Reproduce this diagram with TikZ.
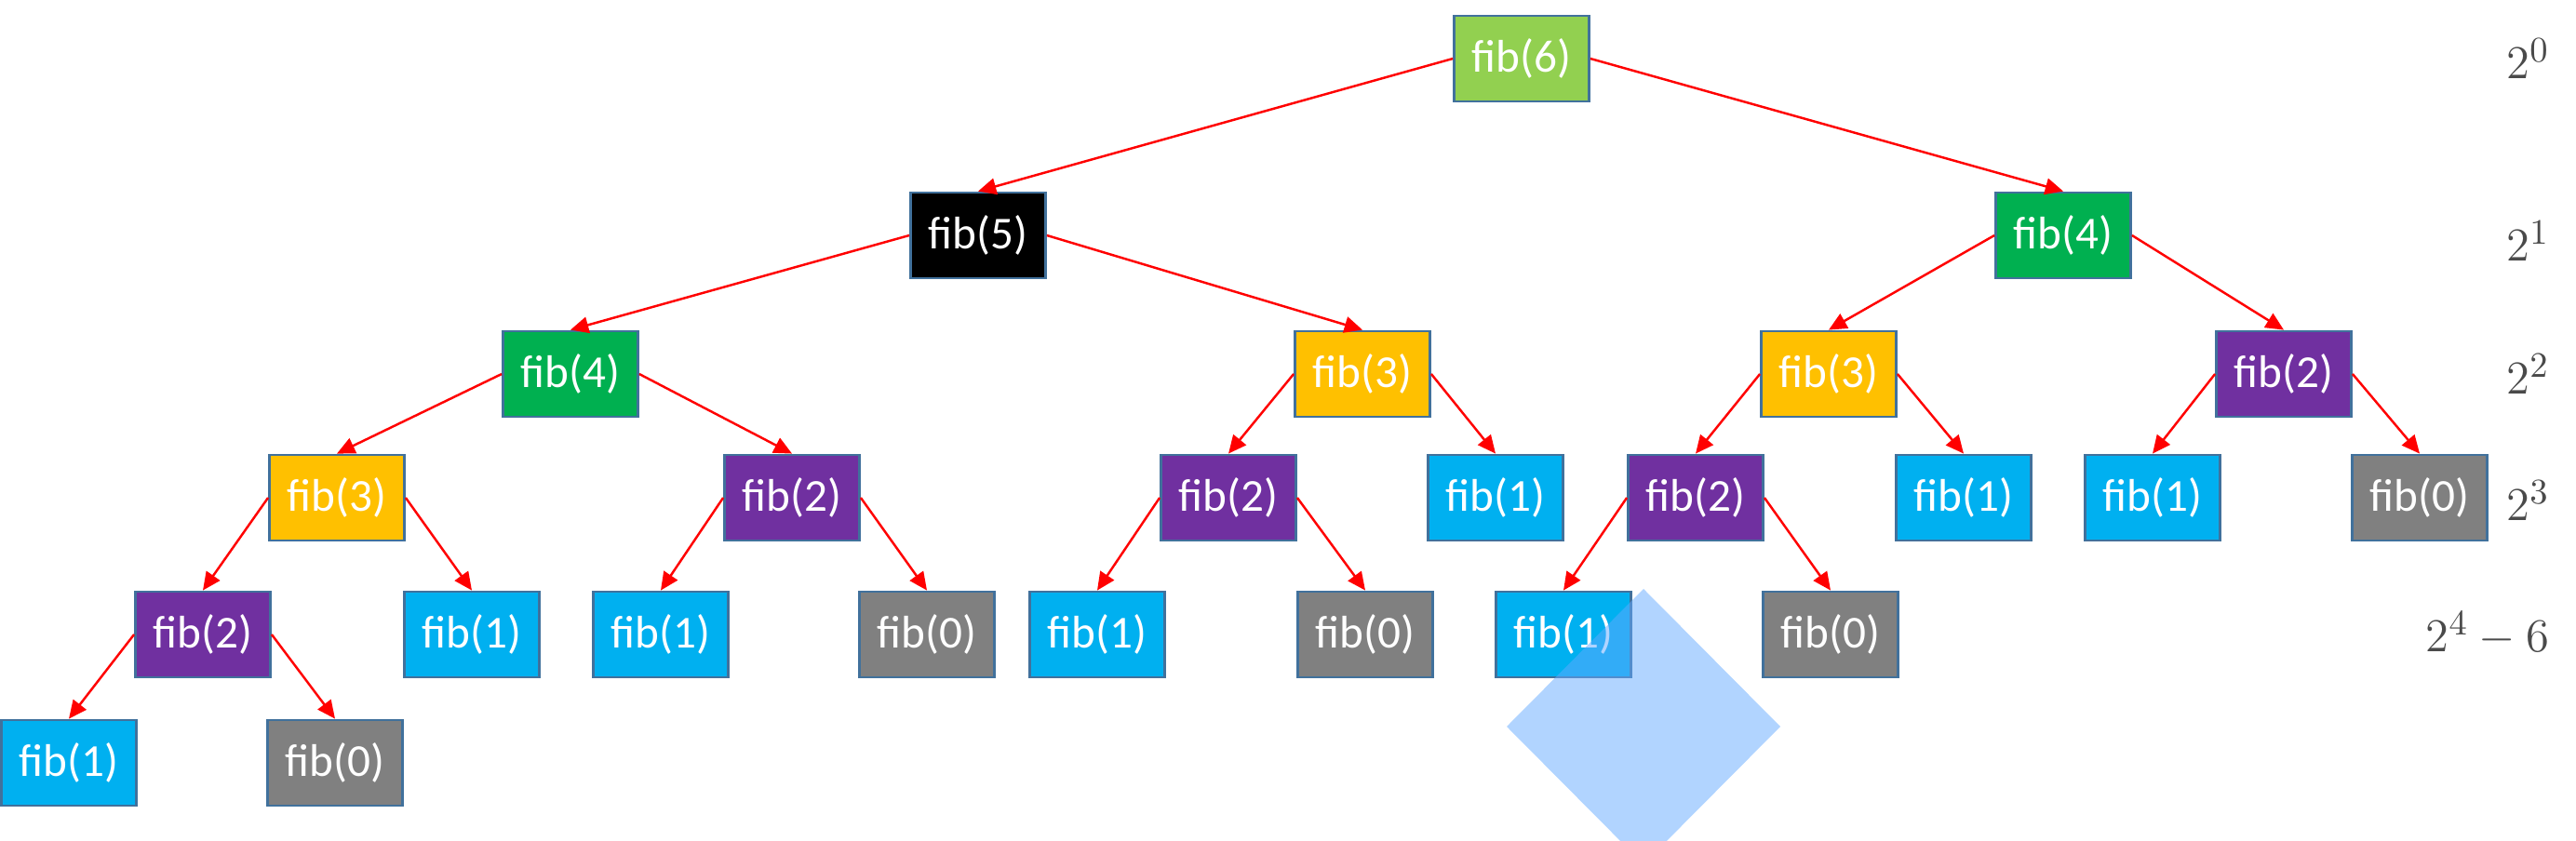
\documentclass[tikz,border=0pt]{standalone}
\usepackage[no-math]{fontspec}
\setmainfont{Carlito}
\usepackage{tikz}
\usetikzlibrary{arrows.meta}
\usepackage{xcolor}
\definecolor{callline}{HTML}{41719C}
\definecolor{fibsix}{HTML}{92D050}
\definecolor{fibfour}{HTML}{00B050}
\definecolor{fibthree}{HTML}{FFC000}
\definecolor{fibtwo}{HTML}{7030A0}
\definecolor{fibone}{HTML}{00B0F0}
\definecolor{fibzero}{HTML}{808080}
\definecolor{levelgray}{HTML}{4A4A4A}
\definecolor{marker}{HTML}{64AAFF}

\begin{document}
\begin{tikzpicture}[>={Triangle[length=5.5pt,width=5pt]},every node/.style={font=\fontsize{14}{16}\selectfont,align=center},callbox/.style={draw=callline,line width=0.8pt,minimum width=14.5mm,minimum height=9.2mm,inner sep=0pt,text=white},csix/.style={callbox,fill=fibsix},cfive/.style={callbox,fill=black},cfour/.style={callbox,fill=fibfour},cthree/.style={callbox,fill=fibthree},ctwo/.style={callbox,fill=fibtwo},cone/.style={callbox,fill=fibone},czero/.style={callbox,fill=fibzero},arrow/.style={->,red,line width=0.7pt},level/.style={anchor=east,inner sep=0pt,text=levelgray,font=\fontsize{15}{18}\selectfont}]
\useasboundingbox (0,0) rectangle (27.68,-9.04);
% calls, one row per depth
\node[csix] (r) at (16.35,-0.63) {fib(6)};
\node[cfive] (rl) at (10.51,-2.53) {fib(5)}; \node[cfour] (rr) at (22.17,-2.53) {fib(4)};
\node[cfour] (rll) at (6.13,-4.02) {fib(4)}; \node[cthree] (rlr) at (14.64,-4.02) {fib(3)}; \node[cthree] (rrl) at (19.65,-4.02) {fib(3)}; \node[ctwo] (rrr) at (24.54,-4.02) {fib(2)};
\node[cthree] (rlll) at (3.62,-5.35) {fib(3)}; \node[ctwo] (rllr) at (8.51,-5.35) {fib(2)}; \node[ctwo] (rlrl) at (13.20,-5.35) {fib(2)}; \node[cone] (rlrr) at (16.07,-5.35) {fib(1)}; \node[ctwo] (rrll) at (18.22,-5.35) {fib(2)}; \node[cone] (rrlr) at (21.10,-5.35) {fib(1)}; \node[cone] (rrrl) at (23.13,-5.35) {fib(1)}; \node[czero] (rrrr) at (26.00,-5.35) {fib(0)};
\node[ctwo] (rllll) at (2.18,-6.82) {fib(2)}; \node[cone] (rlllr) at (5.07,-6.82) {fib(1)}; \node[cone] (rllrl) at (7.10,-6.82) {fib(1)}; \node[czero] (rllrr) at (9.96,-6.82) {fib(0)}; \node[cone] (rlrll) at (11.79,-6.82) {fib(1)}; \node[czero] (rlrlr) at (14.67,-6.82) {fib(0)}; \node[cone] (rrlll) at (16.80,-6.82) {fib(1)}; \node[czero] (rrllr) at (19.67,-6.82) {fib(0)};
\node[cone] (rlllll) at (0.74,-8.20) {fib(1)}; \node[czero] (rllllr) at (3.60,-8.20) {fib(0)};
% recursive calls
\foreach \p in {r,rl,rr,rll,rlr,rrl,rrr,rlll,rllr,rlrl,rrll,rllll}{\draw[arrow] (\p.west) -- (\p l.north); \draw[arrow] (\p.east) -- (\p r.north);}
% calls per level
\node[level] (lv0) at (27.40,-0.63) {$2^0$}; \node[level] (lv1) at (27.40,-2.59) {$2^1$}; \node[level] (lv2) at (27.40,-4.02) {$2^2$}; \node[level] (lv3) at (27.40,-5.38) {$2^3$}; \node[level] (lv4) at (27.40,-6.81) {$2^4-6$};
\fill[marker,opacity=0.5] (17.66,-6.33) -- (19.13,-7.81) -- (17.66,-9.29) -- (16.19,-7.81) -- cycle;
\end{tikzpicture}
\end{document}
